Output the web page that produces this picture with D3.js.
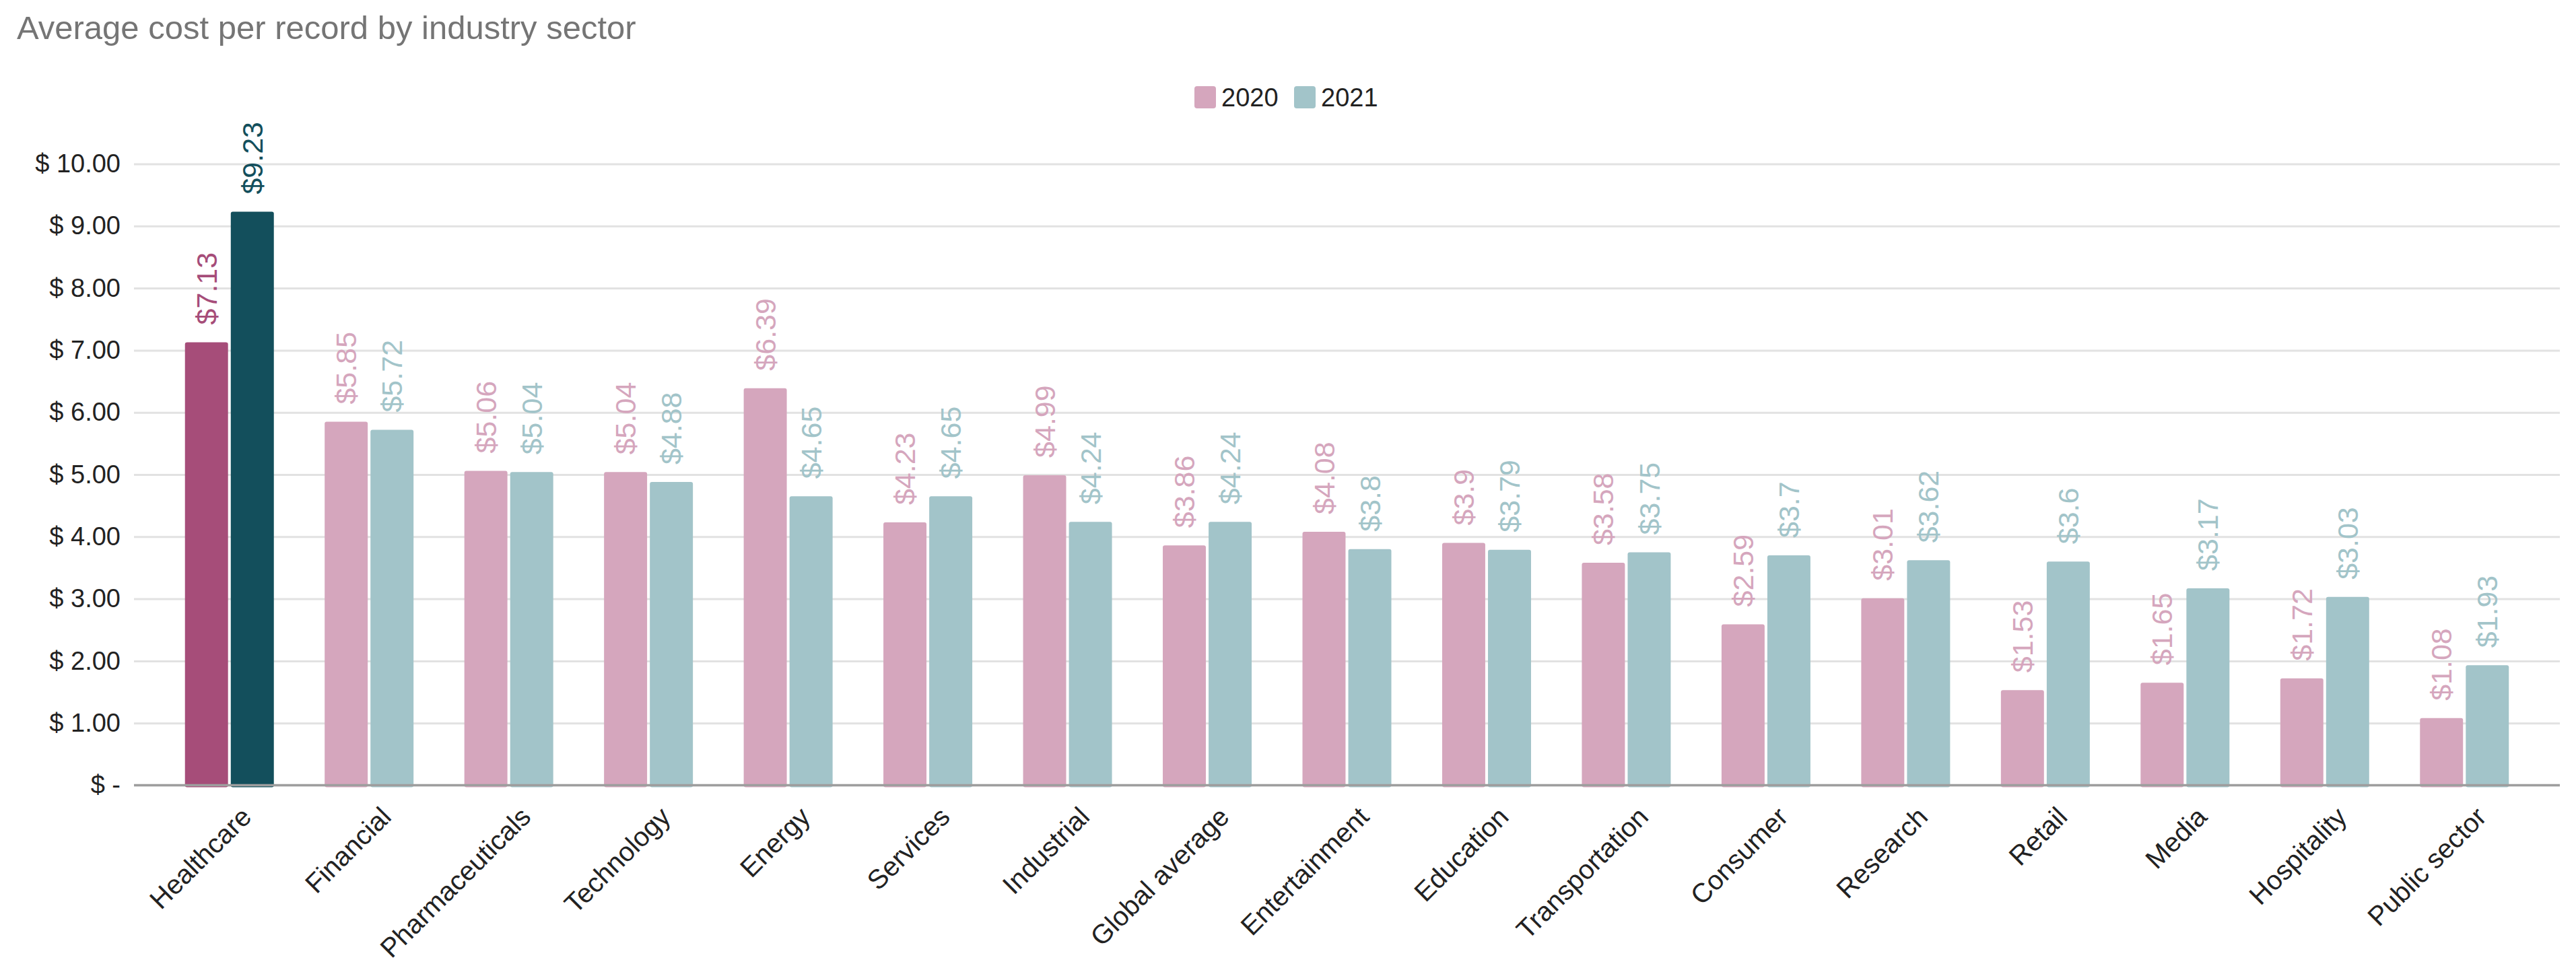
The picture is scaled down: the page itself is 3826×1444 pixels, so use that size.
<!DOCTYPE html>
<html>
<head>
<meta charset="utf-8">
<script src="https://cdn.jsdelivr.net/npm/d3@7"></script>
<style>
  body { margin: 0; background: #fff; }
  text { font-family: "Liberation Sans", Arial, sans-serif; }
</style>
</head>
<body>
<svg id="chart" width="3826" height="1444"></svg>
<script>
// data
const sectors = ['Healthcare', 'Financial', 'Pharmaceuticals', 'Technology', 'Energy', 'Services',
  'Industrial', 'Global average', 'Entertainment', 'Education', 'Transportation', 'Consumer',
  'Research', 'Retail', 'Media', 'Hospitality', 'Public sector']
const years = ['2020', '2021']
const cost2020 = [7.13, 5.85, 5.06, 5.04, 6.39, 4.23, 4.99, 3.86, 4.08, 3.9, 3.58, 2.59, 3.01, 1.53, 1.65, 1.72, 1.08]
const cost2021 = [9.23, 5.72, 5.04, 4.88, 4.65, 4.65, 4.24, 4.24, 3.8, 3.79, 3.75, 3.7, 3.62, 3.6, 3.17, 3.03, 1.93]
const yTicks = [0, 1, 2, 3, 4, 5, 6, 7, 8, 9, 10]

const colors = { '2020': '#d5a6bd', '2021': '#a2c4c9' }
const highlight = { '2020': '#a64d79', '2021': '#134f5c' }

const svg = d3.select('#chart')
svg.append('rect').attr('width', 3826).attr('height', 1444).attr('fill', '#fff')

const plotLeft = 199, plotRight = 3802

let x = d3.scaleBand().domain(sectors).range([237, 3764]).padding(0)
let xSub = d3.scaleBand().domain(years).range([-66, 66]).paddingInner(0.06)
let y = d3.scaleLinear().domain([0, 10]).range([1166.5, 243.5])

// title
svg.append('text')
  .attr('x', 25).attr('y', 58)
  .attr('fill', '#757575')
  .attr('font-size', 49)
  .text('Average cost per record by industry sector')

// legend
let legend = svg.append('g')
let lx = [1774, 1922]
years.forEach((yr, i) => {
  legend.append('rect')
    .attr('x', lx[i]).attr('y', 128)
    .attr('width', 32).attr('height', 33)
    .attr('rx', 4)
    .attr('fill', colors[yr])
  legend.append('text')
    .attr('x', lx[i] + 40).attr('y', 158)
    .attr('font-size', 38)
    .attr('fill', '#222')
    .text(yr)
})

// gridlines + y labels
let yAxis = d3.axisLeft(y)
  .tickValues(yTicks)
  .tickSize(-(plotRight - plotLeft))
  .tickPadding(20)
  .tickFormat(d => d === 0 ? '$ -' : '$ ' + d3.format('.2f')(d))

let gy = svg.append('g')
  .attr('transform', `translate(${plotLeft},0)`)
  .call(yAxis)
gy.select('.domain').remove()
gy.selectAll('.tick line').attr('stroke', '#e2e2e2').attr('stroke-width', 3)
gy.selectAll('.tick text')
  .attr('font-size', 38)
  .attr('fill', '#222')
  .attr('font-family', '"Liberation Sans", Arial, sans-serif')

// bars
let rows = sectors.map((s, i) => ({ sector: s, i: i, vals: [cost2020[i], cost2021[i]] }))

let groups = svg.append('g').selectAll('g')
  .data(rows)
  .enter()
  .append('g')
  .attr('transform', d => `translate(${x(d.sector) + x.bandwidth() / 2},0)`)

let barData = d => years.map((yr, k) => ({ yr: yr, v: d.vals[k], hl: d.i === 0 }))

groups.selectAll('rect')
  .data(barData)
  .enter()
  .append('rect')
  .attr('x', d => xSub(d.yr))
  .attr('y', d => y(d.v))
  .attr('width', xSub.bandwidth())
  .attr('height', d => y(0) - y(d.v) + 3)
  .attr('rx', 3)
  .attr('fill', d => d.hl ? highlight[d.yr] : colors[d.yr])

// value labels, rotated
groups.selectAll('text.val')
  .data(barData)
  .enter()
  .append('text')
  .attr('class', 'val')
  .attr('transform', d => `translate(${xSub(d.yr) + xSub.bandwidth() / 2},${y(d.v) - 26}) rotate(-90)`)
  .attr('dy', '0.35em')
  .attr('font-size', 43)
  .attr('fill', d => d.hl ? highlight[d.yr] : colors[d.yr])
  .text(d => '$' + d.v)

// baseline
svg.append('line')
  .attr('x1', plotLeft).attr('x2', plotRight)
  .attr('y1', y(0)).attr('y2', y(0))
  .attr('stroke', '#9e9e9e')
  .attr('stroke-width', 3.5)

// category labels at 45 degrees
svg.append('g').selectAll('text')
  .data(sectors)
  .enter()
  .append('text')
  .attr('transform', d => `translate(${x(d) + x.bandwidth() / 2 + 35},1216) rotate(-45)`)
  .attr('text-anchor', 'end')
  .attr('font-size', 40)
  .attr('fill', '#222')
  .text(d => d)
</script>
</body>
</html>
